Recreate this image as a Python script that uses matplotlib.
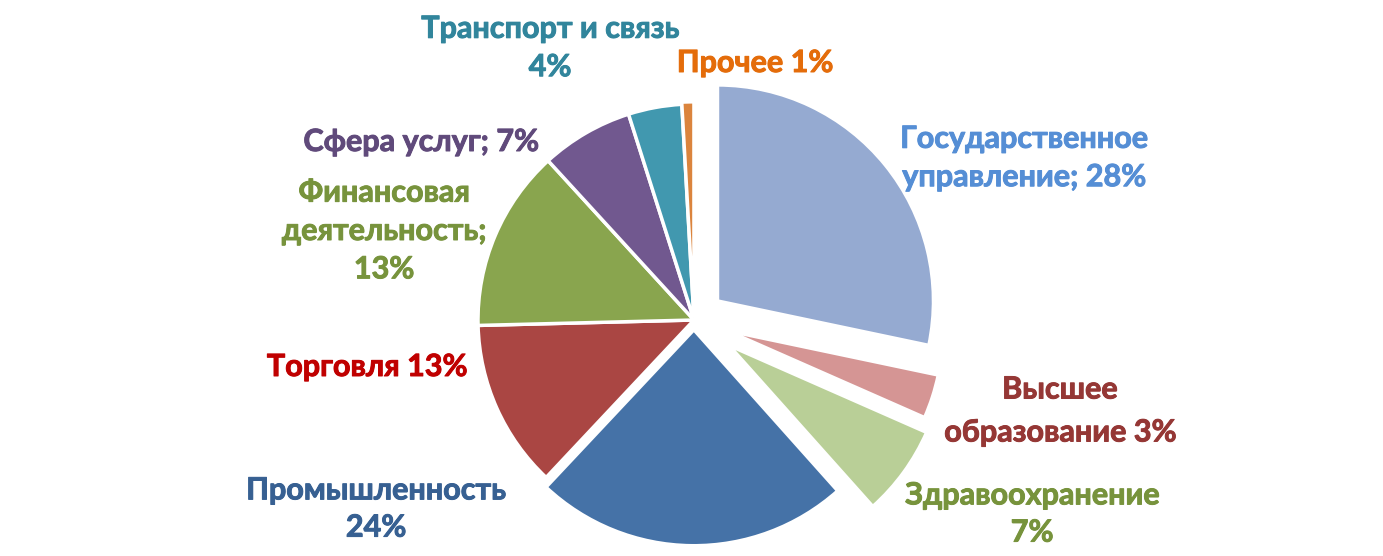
import matplotlib
matplotlib.use("Agg")
import matplotlib.pyplot as plt
import matplotlib.patheffects as pe

# sectors clockwise from 12 o'clock
sectors = ["Государственное управление", "Высшее образование", "Здравоохранение",
           "Промышленность", "Торговля", "Финансовая деятельность",
           "Сфера услуг", "Транспорт и связь", "Прочее"]
shares = [28.3, 3.3, 6.8, 23.6, 12.6, 13.6, 6.9, 4.0, 0.9]
label_texts = ["Государственное\nуправление; 28%", "Высшее\nобразование 3%",
               "Здравоохранение\n7%", "Промышленность\n24%", "Торговля 13%",
               "Финансовая\nдеятельность;\n13%", "Сфера услуг; 7%",
               "Транспорт и связь\n4%", "Прочее 1%"]

wedge_colors = ["#95AAD1", "#D59594", "#B9CF97", "#4572A7", "#AA4643",
                "#89A54E", "#71588F", "#4198AF", "#DB843D"]
text_colors = ["#558ED5", "#953735", "#77933C", "#376092", "#C00000",
               "#77933C", "#604A7B", "#31859C", "#E46C0A"]

W, H = 1383, 556
R = 216
# explode as fraction of radius (pie wants absolute units)
explode_frac = [0.14, 0.16, 0.20, 0.045, 0, 0, 0, 0, 0.01]

# label centres in pixels (from top-left)
label_pos = [(1024, 158), (1060, 411), (1032, 514), (376, 509), (367, 367),
             (384, 231), (421, 142), (550, 48), (755, 63)]
line_sp = [1.45, 1.65, 1.4, 1.4, 1.4, 1.45, 1.4, 1.45, 1.4]

fig = plt.figure(figsize=(W / 100, H / 100), dpi=100)
ax = fig.add_axes([0, 0, 1, 1])

ax.pie(shares, colors=wedge_colors, explode=[e * R for e in explode_frac],
       startangle=90, counterclock=False, center=(694, H - 320), radius=R,
       wedgeprops=dict(edgecolor="white", linewidth=2.5), frame=True)
ax.set_xlim(0, W)
ax.set_ylim(0, H)
ax.axis("off")

for txt, (px, py), c, ls in zip(label_texts, label_pos, text_colors, line_sp):
    ax.text(px, H - py, txt, ha="center", va="center", color=c,
            fontsize=22, fontweight="bold", family=["Lato", "DejaVu Sans"],
            linespacing=ls,
            path_effects=[pe.withStroke(linewidth=0.7, foreground=c)])

fig.savefig("out.png", dpi=100)
